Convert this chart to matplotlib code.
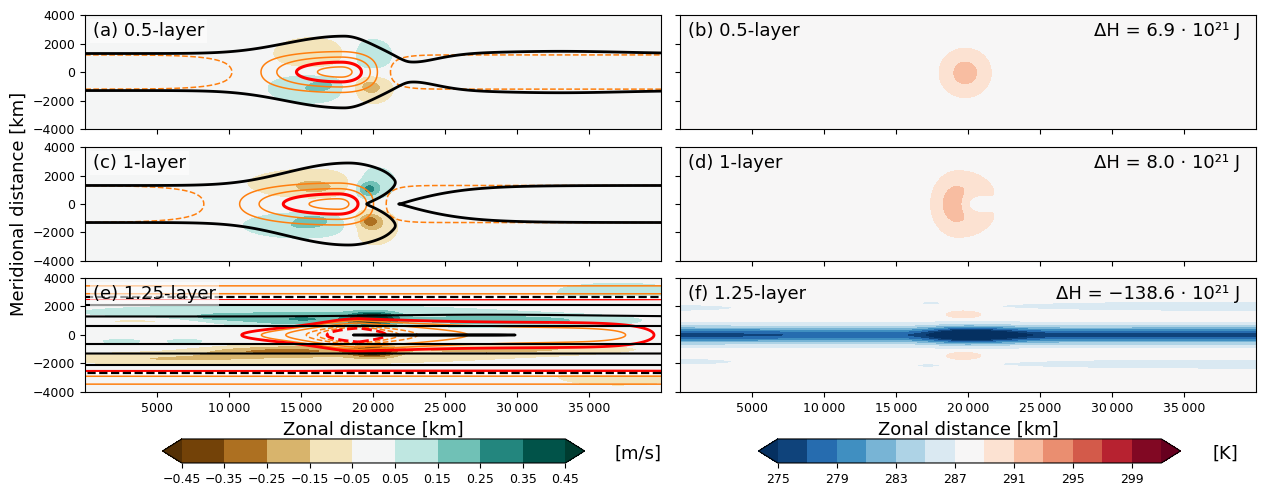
import numpy as np
import matplotlib.pyplot as plt
from matplotlib.ticker import FuncFormatter

# --- grid and axes (km) ---
x_km = np.linspace(0, 40000, 401)
y_km = np.linspace(-4000, 4000, 401)
x_ticks = [5000, 10000, 15000, 20000, 25000, 30000, 35000]
y_ticks = [-4000, -2000, 0, 2000, 4000]

u_levels = np.linspace(-0.45, 0.45, 10)
t_levels = np.arange(275, 302, 2)
t_ticks = [275, 279, 283, 287, 291, 295, 299]

titles_left = ["(a) 0.5-layer", "(c) 1-layer", "(e) 1.25-layer"]
titles_right = ["(b) 0.5-layer", "(d) 1-layer", "(f) 1.25-layer"]
delta_h = ["ΔH = 6.9 · 10²¹ J", "ΔH = 8.0 · 10²¹ J", "ΔH = −138.6 · 10²¹ J"]

# velocity anomaly patches: (x0, y0, lx, ly, amplitude m/s)
u_a = [(15650, 1300, 2500, 1120, -0.15), (16850, 750, 250, 120, -0.08),
       (15500, -1140, 2650, 1000, 0.15), (16600, -900, 700, 320, 0.10),
       (19900, 1190, 1400, 1120, 0.14),
       (19950, -1200, 1480, 1060, -0.15), (19730, -970, 700, 450, -0.10)]
u_c = [(15730, 1435, 4280, 1040, -0.15), (15950, 1100, 1000, 350, -0.11),
       (15000, -1500, 3810, 855, 0.15), (15870, -1100, 1050, 350, 0.11),
       (20100, 1435, 1715, 1235, 0.15), (19670, 1030, 700, 500, 0.22),
       (20100, -1550, 1715, 1350, -0.15), (19740, -1200, 750, 500, -0.24)]
u_e = [(14000, 1600, 16000, 550, 0.11), (14000, -1600, 16000, 550, -0.11),
       (9000, 1200, 3000, 300, 0.10), (11000, -1100, 3500, 300, -0.10),
       (15000, 1050, 4500, 430, 0.20), (15000, -1050, 4500, 430, -0.20),
       (20000, 1150, 1500, 400, 0.50), (20000, -1150, 1500, 400, -0.50),
       (29000, 1000, 8000, 400, 0.20), (29000, -1000, 8000, 400, -0.18),
       (37000, 3050, 5000, 700, 0.10), (37000, -3000, 5000, 700, -0.10),
       (4000, 1000, 4500, 220, -0.09), (2500, -450, 1800, 200, 0.08),
       (7000, -450, 1800, 200, 0.08), (6000, -1700, 6000, 450, -0.08)]

# black contour of the upper panels
half_width = 1300
width_a = [(18000, 2.75, 4944, 2200), (22600, -0.75, 1500, 3000), (33000, 0.25, 6000, 6000)]
c_bulge = (18300, 3.9, 5080, 3450)        # x0, amplitude, l_left, l_right
c_ramp = (21800, 800, 3.0)                # x0, width, height
c_notch = (19450, 0.53, 6.0)              # apex, slope, strength
c_tongue = (21780, 4700)                  # vertex, e-folding length

# orange / red contour field of the upper panels
stream_a = (17800, 0, (6300, 2830), 1100, 3.0)
stream_c = (17600, 0, (7750, 2750), 1150, 3.0)
channel_a, channel_c = 1094, 1185
lev_dashed = [-0.3]
lev_orange = [0.37, 0.81, 1.8]
lev_red = [1.35]

# 1.25-layer: core (x0, amp, l_left, l_right, ly) and tail (amp, l_left, l_right, ly)
e_core = (19000, 4.37, 5500, 3000, 650)
e_tail = (1.48, 3000, 22500, 1220)
e_far = 2550
e_red, e_orange, e_orange_d, e_red_d = [1.0], [1.29, 1.83], [2.6, 3.2], [3.8]
e_black = [600, 1300, 2100]
e_black_dashed = [2680]
e_segment = (24250, 6750, 200)

# temperature patches: (x0, y0, lx, ly, amplitude K) around 288 K
t_b = [(19800, -60, 1560, 1490, 3.87)]
t_d = (19300, 0, (1520, 2300), 1870, 4.8)
t_d_notch = (20700, 0, 1200, 900, 1.0)
t_f = [(19700, 1450, 1360, 313, 2.5), (19700, -1480, 1360, 313, 2.5),
       (0, 1900, 4200, 260, -2.0), (0, -1870, 4200, 260, -2.0),
       (38000, 2020, 19000, 420, -2.0), (38000, -2040, 19000, 420, -2.0),
       (17400, 2250, 700, 110, -1.5), (17200, -2150, 700, 110, -1.5)]
t_f_band = (10.0, 600)
t_f_wedge = (2.0, 9600)
t_f_lens = (20000, 9.7, 2780, 3960)
t_f_right = (40000, 2.0, 15000)

X, Y = np.meshgrid(x_km, y_km)


def gauss(x0, y0, lx, ly, amp):
    if np.ndim(lx):
        lx = np.where(X < x0, lx[0], lx[1])
    return amp * np.exp(-((X - x0) / lx) ** 2 - ((Y - y0) / ly) ** 2)


def ridge(x0, amp, l_left, l_right):
    l = np.where(X < x0, l_left, l_right)
    return amp * np.exp(-((X - x0) / l) ** 2)


def patches(lst):
    return sum(gauss(*p) for p in lst)


U = [patches(u_a), patches(u_c), patches(u_e)]

H_a = (Y / half_width) ** 2 - sum(ridge(*r) for r in width_a)

# 1-layer: bulged region with a notch, plus a separate tongue from the east
rx, rw, rh = c_ramp
ax_, slope, strength = c_notch
wn = slope * np.clip(X - ax_, 1, None)
H_left = ((Y / half_width) ** 2 - ridge(*c_bulge)
          + rh * (1 + np.tanh((X - rx) / rw)) / 2
          + strength * np.exp(-(Y / wn) ** 4) * (1 + np.tanh((X - ax_) / 200)) / 2)
vx, lr = c_tongue
wr = half_width * np.tanh(np.clip(X - vx, 1, None) / lr)
H_right = (Y / wr) ** 2 + np.exp(-(X - vx) / 300)
H_c = np.minimum(H_left, H_right)

P_a = gauss(*stream_a) - np.exp(-(Y / channel_a) ** 2)
P_c = gauss(*stream_c) - np.exp(-(Y / channel_c) ** 2)

# 1.25-layer stream field
x0, ca, cl, cr, cly = e_core
ta, tl, tr, tly = e_tail
d = X - x0
core = ca * np.where(d < 0, np.exp(d / cl), np.exp(-d / cr)) * np.exp(-(Y / cly) ** 2)
tail = ta * np.where(d < 0, np.exp(-(d / tl) ** 2), np.exp(-np.abs(d / tr) ** 10)) * np.exp(-(Y / tly) ** 2)
P_e = (Y / e_far) ** 2 + core + tail
sx, sl, sa = e_segment
K_e = (np.abs(Y) - 150 * np.exp(-((X - 28000) / 9000) ** 2 - ((Y - 1300) / 300) ** 2)
       + sa * (1 - np.exp(-np.abs((X - sx) / sl) ** 10)) * np.exp(-(Y / 150) ** 2))

T_b = 288 + patches(t_b)
T_d = 288 + gauss(*t_d) * (1 - gauss(*t_d_notch))
depth = (t_f_band[0] + t_f_wedge[0] * np.exp(-(X / t_f_wedge[1]) ** 2)
         + ridge(*t_f_lens)
         + t_f_right[1] * np.exp(-np.abs((X - t_f_right[0]) / t_f_right[2]) ** 8))
T_f = 288 - depth * np.exp(-(Y / t_f_band[1]) ** 2) + patches(t_f)
T = [T_b, T_d, T_f]


def km_fmt(v, pos):
    v = int(round(v))
    s = f"{v:,}".replace(",", "\u2009") if abs(v) >= 10000 else str(v)
    return s.replace("-", "\u2212")


fig = plt.figure(figsize=(12.61, 4.93), dpi=100)
ax_w, ax_h = 0.4568, 0.2312
lefts = [0.0674, 0.5393]
bottoms = [0.7383, 0.4706, 0.2049]
box = dict(boxstyle="square,pad=0.15", fc="white", ec="none", alpha=0.6)

for i, b in enumerate(bottoms):
    axL = fig.add_axes([lefts[0], b, ax_w, ax_h])
    axR = fig.add_axes([lefts[1], b, ax_w, ax_h])

    cf_u = axL.contourf(X, Y, U[i], levels=u_levels, cmap="BrBG", extend="both")
    cf_t = axR.contourf(X, Y, T[i], levels=t_levels, cmap="RdBu_r", extend="both")

    if i < 2:
        P, H = (P_a, H_a) if i == 0 else (P_c, H_c)
        axL.contour(X, Y, P, levels=lev_dashed, colors="C1", linewidths=1.1, linestyles="--")
        axL.contour(X, Y, P, levels=lev_orange, colors="C1", linewidths=1.1, linestyles="-")
        axL.contour(X, Y, P, levels=lev_red, colors="red", linewidths=2.2, linestyles="-")
        axL.contour(X, Y, H, levels=[1], colors="black", linewidths=2.0)
    else:
        axL.contour(X, Y, P_e, levels=e_orange, colors="C1", linewidths=1.1, linestyles="-")
        axL.contour(X, Y, P_e, levels=e_orange_d, colors="C1", linewidths=1.1, linestyles="--")
        axL.contour(X, Y, P_e, levels=e_red, colors="red", linewidths=2.0, linestyles="-")
        axL.contour(X, Y, P_e, levels=e_red_d, colors="red", linewidths=2.0, linestyles="--")
        axL.contour(X, Y, K_e, levels=e_black, colors="black", linewidths=1.5)
        axL.contour(X, Y, K_e, levels=[30], colors="black", linewidths=1.8)
        axL.contour(X, Y, K_e, levels=e_black_dashed, colors="white", linewidths=2.2)
        axL.contour(X, Y, K_e, levels=e_black_dashed, colors="black", linewidths=1.6, linestyles="--")

    axL.text(0.014, 0.86, titles_left[i], transform=axL.transAxes, fontsize=13,
             va="center", ha="left", bbox=box)
    axR.text(0.014, 0.86, titles_right[i], transform=axR.transAxes, fontsize=13,
             va="center", ha="left")
    axR.text(0.972, 0.86, delta_h[i], transform=axR.transAxes, fontsize=13,
             va="center", ha="right")

    for ax in (axL, axR):
        ax.set_xlim(0, 40000)
        ax.set_ylim(-4000, 4000)
        ax.set_xticks(x_ticks)
        ax.set_yticks(y_ticks)
        ax.xaxis.set_major_formatter(FuncFormatter(km_fmt))
        ax.yaxis.set_major_formatter(FuncFormatter(km_fmt))
        ax.tick_params(labelsize=9)
        if i < 2:
            ax.tick_params(labelbottom=False)
        else:
            ax.set_xlabel("Zonal distance [km]", fontsize=13)
    axR.tick_params(labelleft=False)
    if i == 1:
        axL.set_ylabel("Meridional distance [km]", fontsize=13)

cax1 = fig.add_axes([0.1289, 0.0609, 0.3347, 0.0487])
cb1 = fig.colorbar(cf_u, cax=cax1, orientation="horizontal", ticks=u_levels)
cb1.ax.set_xticklabels([f"{v:.2f}".replace("-", "\u2212") for v in u_levels])
cb1.ax.tick_params(labelsize=9)

cax2 = fig.add_axes([0.6015, 0.0609, 0.3347, 0.0487])
cb2 = fig.colorbar(cf_t, cax=cax2, orientation="horizontal", ticks=t_ticks)
cb2.ax.tick_params(labelsize=9)

fig.text(614 / 1261, 1 - 454 / 493, "[m/s]", fontsize=13, va="center", ha="left")
fig.text(1213 / 1261, 1 - 454 / 493, "[K]", fontsize=13, va="center", ha="left")

fig.savefig("out.png", dpi=100)
